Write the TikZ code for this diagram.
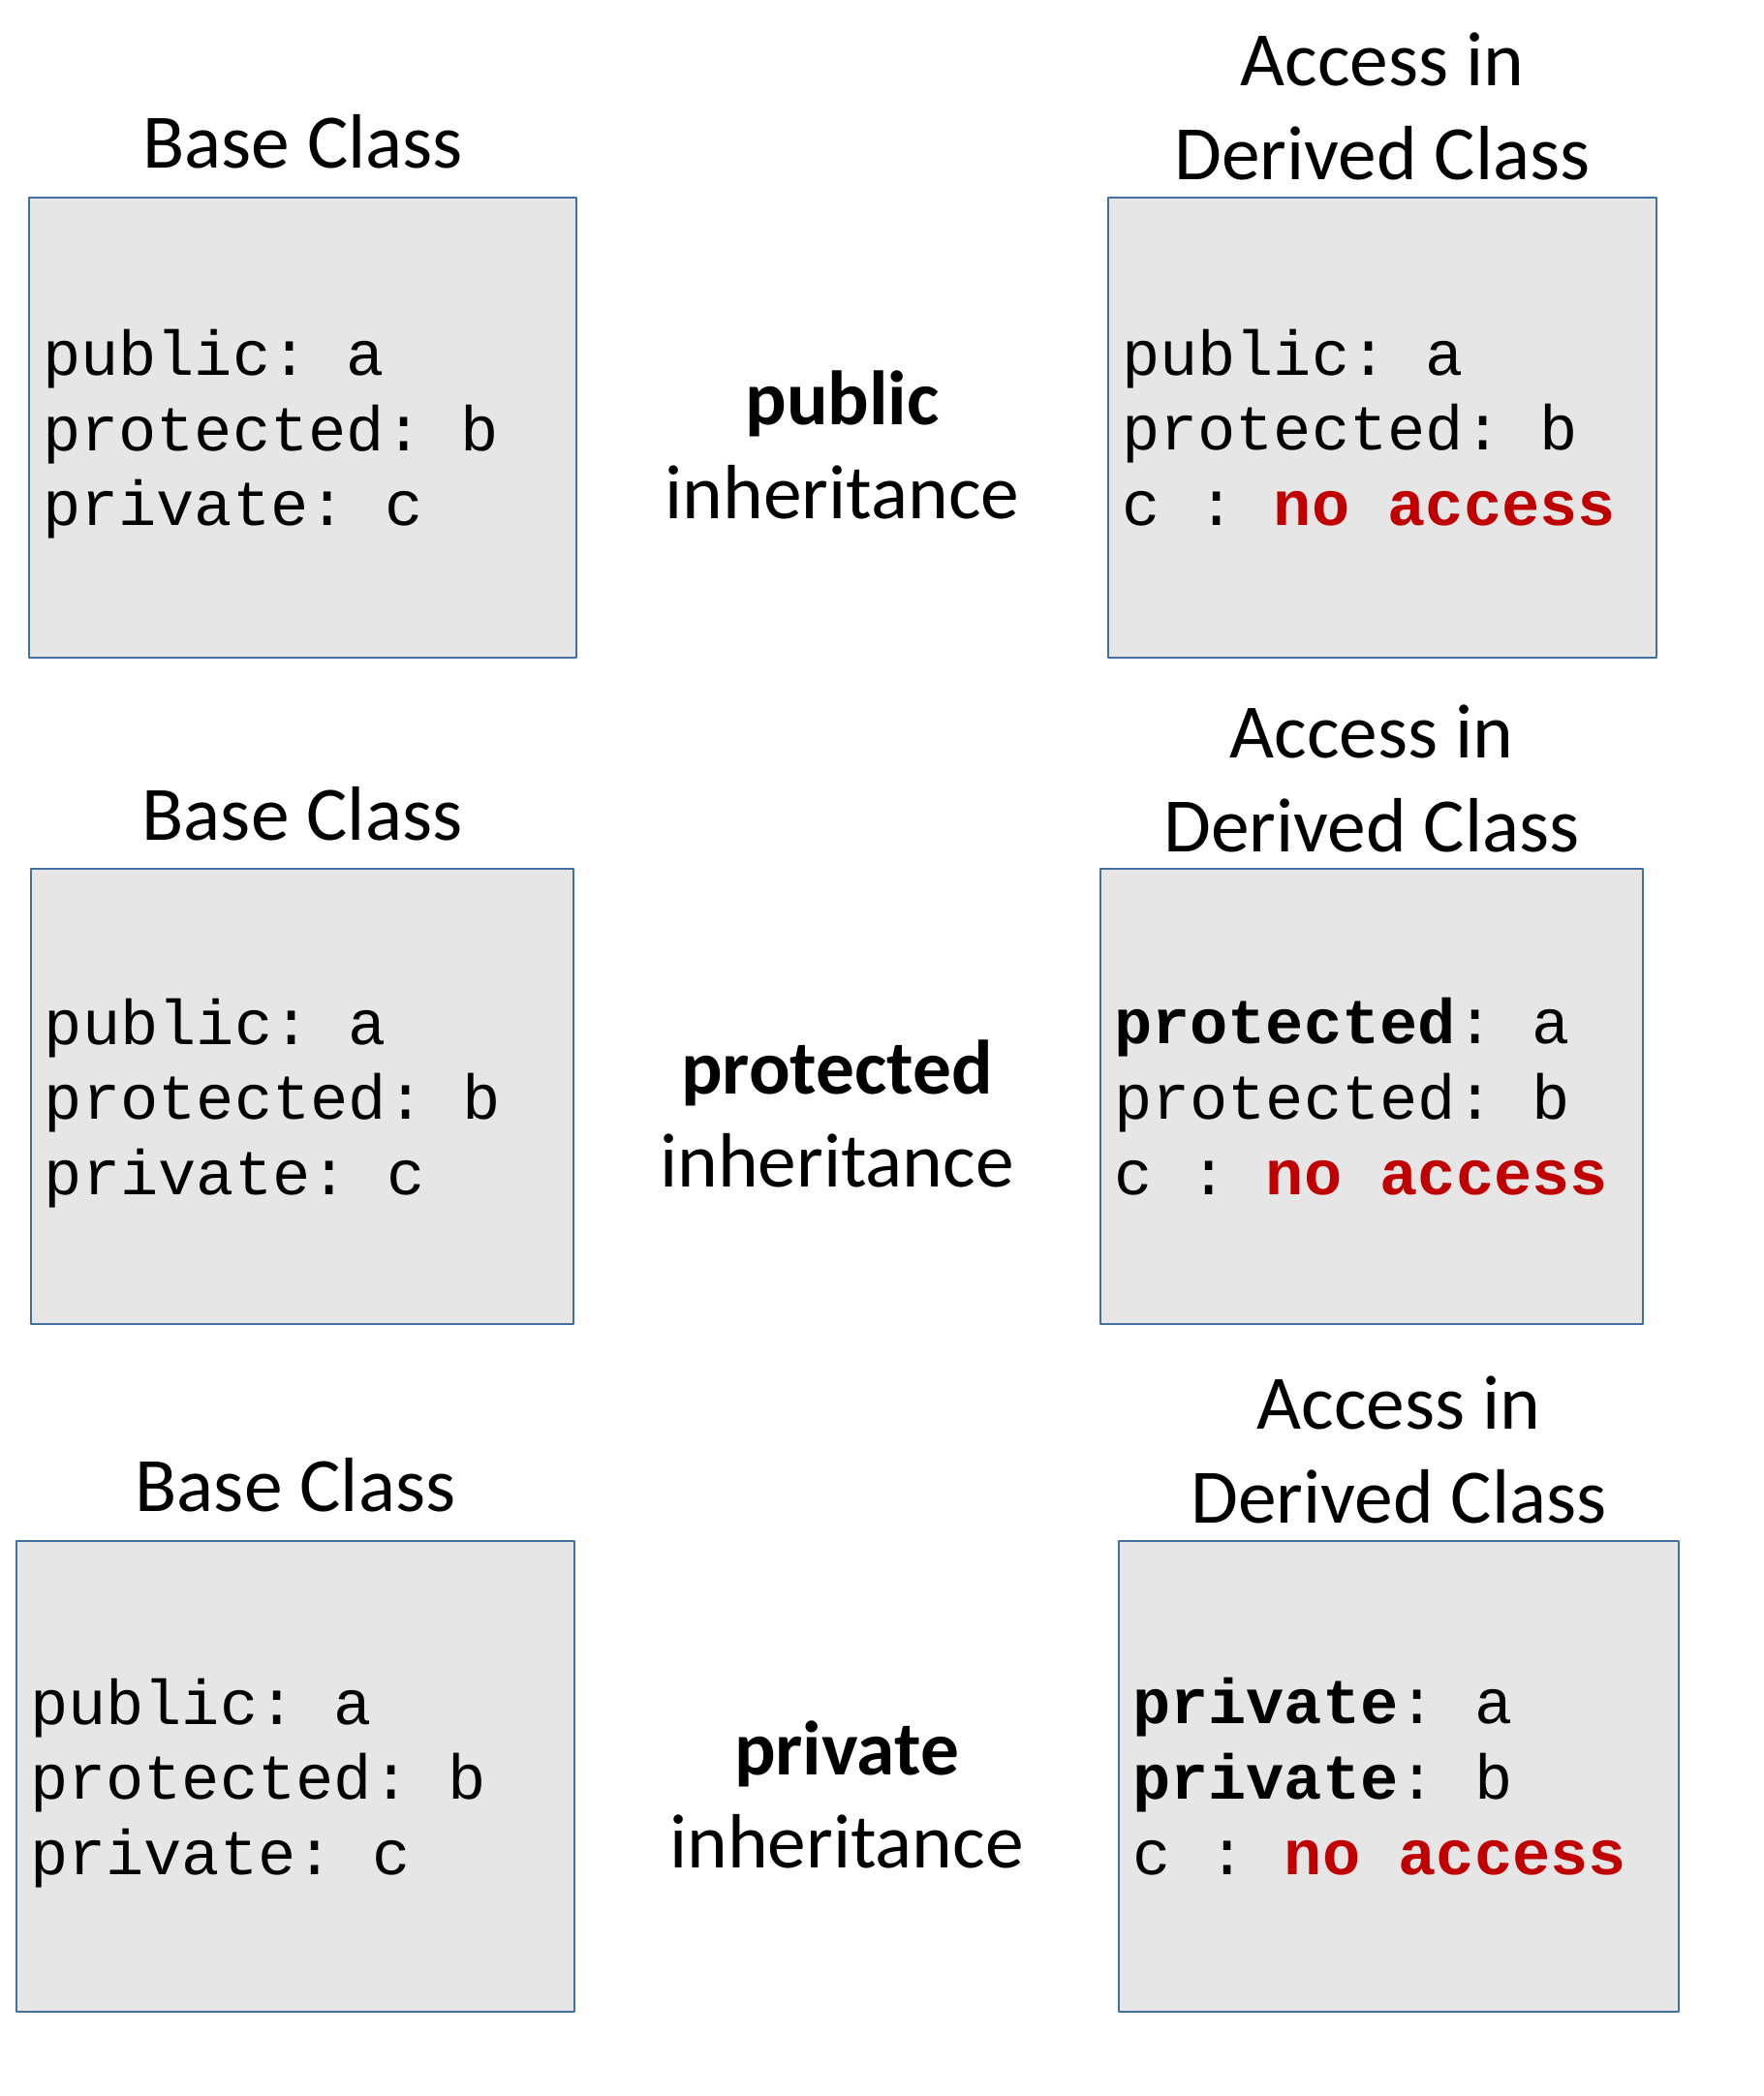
\documentclass[tikz,border=0pt]{standalone}
\usepackage{fontspec}
\setmainfont{Carlito}
\newfontfamily\codefont{Liberation Mono}
\usetikzlibrary{positioning,calc}
\definecolor{boxfill}{HTML}{E7E6E6}
\definecolor{boxline}{HTML}{41719C}
\definecolor{noaccred}{HTML}{C00000}
\newcommand{\noaccess}{\textcolor{noaccred}{\textbf{no access}}}
% members of the base class (last line without depth)
\newcommand{\baselist}{public: a\\protected: b\\\raisebox{0pt}[\height][0pt]{private: c}}
\begin{document}
\begin{tikzpicture}[line join=round,
		title/.style={font=\fontsize{22.6}{27.5}\selectfont, align=center, inner sep=0pt},
		classbox/.style 2 args={draw=boxline, fill=boxfill, line width=0.8pt,
			minimum width=#1, minimum height=#2, text width=#1-0.28cm,
			inner xsep=0.14cm, align=flush left,
			font=\codefont\fontsize{18.6}{22.1}\selectfont\frenchspacing}]
	\useasboundingbox (0,0) rectangle (18.2,21.64);
	% public inheritance
	\node[classbox={5.65cm}{4.75cm}] (base1) at (3.125,17.225) {\baselist};
	\node[classbox={5.66cm}{4.75cm}] (der1) at (14.27,17.225) {public: a\\protected: b\\c : \noaccess};
	\node[title, above=0.28cm of base1] (btitle1) {Base Class};
	\node[title, above=0.16cm of der1] (dtitle1) {Access in\\Derived Class};
	\node[title] (mid1) at ($(base1.east)!0.5!(der1.west)+(0,-0.18)$) {\textbf{public}\\inheritance};
	% protected inheritance
	\node[classbox={5.60cm}{4.70cm}] (base2) at (3.12,10.32) {\baselist};
	\node[classbox={5.60cm}{4.70cm}] (der2) at (14.16,10.32) {\textbf{protected}: a\\protected: b\\c : \noaccess};
	\node[title, above=0.27cm of base2] (btitle2) {Base Class};
	\node[title, above=0.15cm of der2] (dtitle2) {Access in\\Derived Class};
	\node[title] (mid2) at ($(base2.east)!0.5!(der2.west)+(0,-0.18)$) {\textbf{protected}\\inheritance};
	% private inheritance
	\node[classbox={5.76cm}{4.86cm}] (base3) at (3.05,3.30) {\baselist};
	\node[classbox={5.78cm}{4.86cm}] (der3) at (14.44,3.30) {\textbf{private}: a\\\textbf{private}: b\\c : \noaccess};
	\node[title, above=0.28cm of base3] (btitle3) {Base Class};
	\node[title, above=0.16cm of der3] (dtitle3) {Access in\\Derived Class};
	\node[title] (mid3) at ($(base3.east)!0.5!(der3.west)+(0,-0.19)$) {\textbf{private}\\inheritance};
\end{tikzpicture}
\end{document}
